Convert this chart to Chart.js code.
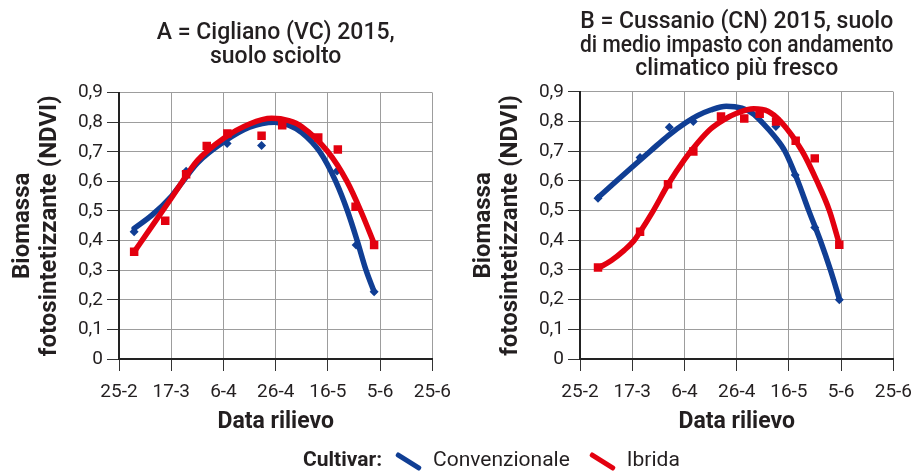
<!DOCTYPE html>
<html>
<head>
<meta charset="utf-8">
<script src="https://cdn.jsdelivr.net/npm/chart.js@4.4.1/dist/chart.umd.min.js"></script>
<style>
    body { margin: 0; background: #fff; font-family: Roboto, sans-serif; color: #231f20; }
    #wrap { position: relative; width: 922px; height: 472px; overflow: hidden; }
    .panel { position: absolute; top: 0; width: 461px; height: 472px; }
    #legend { position: absolute; left: 303px; top: 446px; height: 26px; display: flex; align-items: center; font-size: 21px; }
    #legend b { font-weight: 700; margin-right: 12px; }
    .stroke { width: 29px; height: 5px; border-radius: 2px; transform: rotate(32deg); margin: 4px 10px 0 0; }
    .lbl { margin-right: 18px; }
</style>
</head>
<body>
<div id="wrap">
    <div class="panel" style="left:0"><canvas id="chartA" width="461" height="472"></canvas></div>
    <div class="panel" style="left:461px"><canvas id="chartB" width="461" height="472"></canvas></div>
    <div id="legend">
        <b>Cultivar:</b>
        <span class="stroke" style="background:#103e94"></span><span class="lbl">Convenzionale</span>
        <span class="stroke" style="background:#e3000f"></span><span>Ibrida</span>
    </div>
</div>
<script>
// Tick labels (days from 25-2, step 20)
const tickDates = ['25-2', '17-3', '6-4', '26-4', '16-5', '5-6', '25-6'];

// A = Cigliano - measured points
const aConvDays = [5.8, 25.7, 33.4, 41.4, 54.6, 83.5, 90.8, 97.7];
const aConvVals = [0.43, 0.634, 0.693, 0.728, 0.721, 0.635, 0.385, 0.227];
const aHybDays = [5.8, 17.7, 25.7, 33.6, 41.5, 54.6, 62.5, 76.3, 83.8, 90.6, 97.7];
const aHybVals = [0.362, 0.467, 0.624, 0.72, 0.762, 0.754, 0.79, 0.748, 0.708, 0.514, 0.385];

// A = Cigliano - trend curves
const aConvFitDays = [5.8, 12.5, 20, 23.1, 30, 40, 50, 59.5, 65, 70, 76.9, 83, 87.5, 91.2, 94.6, 97.7];
const aConvFitVals = [0.441, 0.485, 0.549, 0.584, 0.662, 0.733, 0.783, 0.8, 0.79, 0.765, 0.7, 0.6, 0.5, 0.4, 0.3, 0.227];
const aHybFitDays = [5.8, 12.5, 20, 23.1, 30, 40, 50, 58.5, 65, 70, 80, 87.3, 92.6, 97.7];
const aHybFitVals = [0.362, 0.447, 0.543, 0.584, 0.67, 0.745, 0.794, 0.813, 0.805, 0.785, 0.7, 0.6, 0.5, 0.39];

// B = Cussanio - measured points
const bConvDays = [6.9, 23, 34.2, 43.4, 75, 82.4, 89.9, 99.3];
const bConvVals = [0.542, 0.679, 0.781, 0.8, 0.783, 0.62, 0.443, 0.2];
const bHybDays = [6.9, 23, 33.7, 43.4, 54, 62.9, 68.8, 75.1, 82.6, 89.9, 99.3];
const bHybVals = [0.308, 0.429, 0.589, 0.699, 0.817, 0.81, 0.826, 0.8, 0.735, 0.676, 0.385];

// B = Cussanio - trend curves
const bConvFitDays = [6.9, 13.1, 20, 26.9, 33.8, 40.6, 45, 50, 56, 62, 66, 70, 74.5, 78.5, 83.4, 87.6, 92, 95.9, 99.4];
const bConvFitVals = [0.544, 0.593, 0.647, 0.7, 0.753, 0.797, 0.82, 0.839, 0.852, 0.845, 0.828, 0.795, 0.75, 0.7, 0.6, 0.5, 0.4, 0.3, 0.2];
const bHybFitDays = [6.9, 12, 17, 20.6, 23, 27.7, 34, 40, 45, 50, 55, 60, 66.5, 72, 76.9, 85.1, 90.7, 95.5, 99.4];
const bHybFitVals = [0.306, 0.332, 0.367, 0.398, 0.428, 0.494, 0.592, 0.672, 0.728, 0.775, 0.806, 0.828, 0.843, 0.835, 0.8, 0.7, 0.6, 0.5, 0.385];

const BLUE = '#103e94';
const RED = '#e3000f';
const FONT = 'Roboto';

function pts(days, vals) {
    return days.map((d, i) => ({ x: d, y: vals[i] }));
}

function makeChart(id, title, titlePad, convD, convV, hybD, hybV, convFD, convFV, hybFD, hybFV) {
    const ctx = document.getElementById(id).getContext('2d');
    const curve = { type: 'line', borderWidth: 5.5, pointRadius: 0, cubicInterpolationMode: 'monotone', borderCapStyle: 'round', fill: false };
    return new Chart(ctx, {
        data: {
            datasets: [
                Object.assign({}, curve, { data: pts(hybFD, hybFV), borderColor: RED }),
                { type: 'scatter', data: pts(hybD, hybV), pointStyle: 'rect', pointRadius: 6, backgroundColor: RED, borderColor: RED, borderWidth: 0 },
                Object.assign({}, curve, { data: pts(convFD, convFV), borderColor: BLUE }),
                { type: 'scatter', data: pts(convD, convV), pointStyle: 'rectRot', pointRadius: 4.5, backgroundColor: BLUE, borderColor: BLUE, borderWidth: 0 }
            ]
        },
        options: {
            responsive: false,
            animation: false,
            layout: { padding: { left: 0, right: 23, top: 0, bottom: 33 } },
            plugins: {
                legend: { display: false },
                tooltip: { enabled: false },
                title: {
                    display: true,
                    text: title,
                    fullSize: false,
                    color: '#231f20',
                    font: { family: FONT, size: 23, weight: '500', lineHeight: 1.013 },
                    padding: titlePad
                }
            },
            scales: {
                x: {
                    type: 'linear',
                    min: 0,
                    max: 120,
                    afterFit: s => { s.height = 80; },
                    ticks: {
                        stepSize: 20,
                        autoSkip: false,
                        maxRotation: 0,
                        padding: 10,
                        color: '#231f20',
                        font: { family: FONT, size: 19 },
                        callback: v => tickDates[Math.round(v / 20)]
                    },
                    grid: { color: '#9d9d9d', lineWidth: 1, tickLength: 12, tickColor: '#333' },
                    border: { color: '#222', width: 2 },
                    title: {
                        display: true,
                        text: 'Data rilievo',
                        color: '#231f20',
                        font: { family: FONT, size: 23, weight: 'bold', lineHeight: 1.1 },
                        padding: { top: 0, bottom: 4 }
                    }
                },
                y: {
                    min: 0,
                    max: 0.9,
                    afterFit: s => { s.width = 119; },
                    ticks: {
                        stepSize: 0.1,
                        padding: 4,
                        color: '#231f20',
                        font: { family: FONT, size: 19 },
                        callback: v => v === 0 ? '0' : v.toFixed(1).replace('.', ',')
                    },
                    grid: { color: '#9d9d9d', lineWidth: 1, tickLength: 12, tickColor: '#333' },
                    border: { color: '#222', width: 2 },
                    title: {
                        display: true,
                        text: ['Biomassa', 'fotosintetizzante (NDVI)'],
                        color: '#231f20',
                        font: { family: FONT, size: 24, weight: 'bold', lineHeight: 1.125 },
                        padding: { top: 9, bottom: 0 }
                    }
                }
            }
        }
    });
}

makeChart('chartA', ['A = Cigliano (VC) 2015,', 'suolo sciolto'], { top: 22, bottom: 24 },
    aConvDays, aConvVals, aHybDays, aHybVals, aConvFitDays, aConvFitVals, aHybFitDays, aHybFitVals);

makeChart('chartB', ['B = Cussanio (CN) 2015, suolo', 'di medio impasto con andamento', 'climatico più fresco'], { top: 11, bottom: 11 },
    bConvDays, bConvVals, bHybDays, bHybVals, bConvFitDays, bConvFitVals, bHybFitDays, bHybFitVals);
</script>
</body>
</html>
